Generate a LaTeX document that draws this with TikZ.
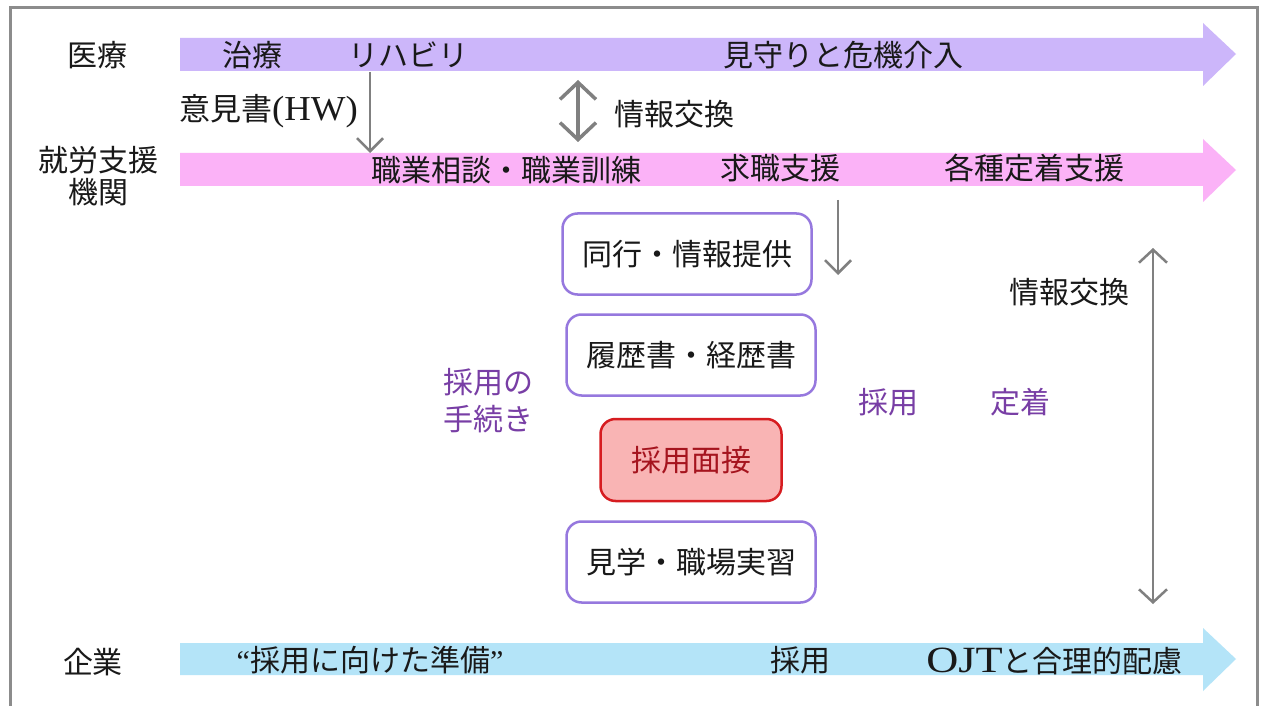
\documentclass[tikz,border=0pt]{standalone}
\usepackage{fontspec}
\setmainfont{Noto Sans CJK JP}
\newfontfamily\serifL{Liberation Serif}
\usetikzlibrary{arrows.meta}
\definecolor{medc}{RGB}{204,182,250}
\definecolor{jobc}{RGB}{251,178,247}
\definecolor{comc}{RGB}{180,228,248}
\definecolor{boxc}{RGB}{150,120,222}
\definecolor{redfill}{RGB}{249,180,180}
\definecolor{redline}{RGB}{214,28,32}
\definecolor{redtext}{RGB}{165,20,30}
\definecolor{purtext}{RGB}{120,62,165}
\definecolor{agray}{RGB}{128,128,128}
\definecolor{fgray}{RGB}{140,140,140}
\definecolor{txt}{RGB}{25,25,25}
\tikzset{
  lbl/.style={font=\fontsize{30}{34}\selectfont, inner sep=0pt, text=txt},
  ptxt/.style={lbl, text=purtext},
  pbox/.style={lbl, draw=boxc, line width=2.5pt, fill=white, rounded corners=15pt,
    minimum width=249pt, minimum height=81pt},
  rbox/.style={lbl, draw=redline, line width=2.5pt, fill=redfill, rounded corners=15pt,
    minimum width=181pt, minimum height=82pt, text=redtext},
  garrow/.style={draw=agray, line width=2.5pt, -{Straight Barb[length=13pt,width=26pt]}},
  gdouble/.style={draw=agray, line width=2.5pt, {Straight Barb[length=13pt,width=28pt]}-{Straight Barb[length=13pt,width=28pt]}},
  gbig/.style={draw=agray, line width=3.5pt, {Straight Barb[length=17pt,width=36pt]}-{Straight Barb[length=17pt,width=36pt]}}
}
\begin{document}
\begin{tikzpicture}[x=1pt,y=-1pt]
\useasboundingbox (0,0) rectangle (1262,706);
\fill[white] (0,0) rectangle (1262,706);
% frame
\draw[fgray, line width=3pt] (10,706) -- (10,8) -- (1257,8) -- (1257,706);

% bars
\fill[medc] (180,38) -- (1203,38) -- (1203,23) -- (1236,54) -- (1203,86) -- (1203,71) -- (180,71) -- cycle;
\fill[jobc] (180,153) -- (1203,153) -- (1203,139) -- (1236,170) -- (1203,202) -- (1203,186) -- (180,186) -- cycle;
\fill[comc] (180,643) -- (1203,643) -- (1203,628) -- (1236,659) -- (1203,691) -- (1203,675) -- (180,675) -- cycle;

% row labels
\node[lbl] (med) at (97,55) {医療};
\node[lbl, align=center, font=\fontsize{30}{32}\selectfont] (job) at (98,176) {就労支援\\機関};
\node[lbl] (com) at (93,662) {企業};

% medical bar texts
\node[lbl] (chiryo) at (252,55) {治療};
\node[lbl] (reha) at (408,55) {リハビリ};
\node[lbl] (mimamori) at (843,55) {見守りと危機介入};

% job bar texts
\node[lbl] (soudan) at (506,170) {職業相談・職業訓練};
\node[lbl] (kyushoku) at (780,168) {求職支援};
\node[lbl] (teichaku) at (1034,168) {各種定着支援};

% company bar texts
\node[lbl] (junbi) at (370,660) {{\serifL “}採用に向けた準備{\serifL ”}};
\node[lbl] (saiyo2) at (800,660) {採用};
\node[lbl, anchor=base east] (ojt) at (1183,672) {{\serifL\fontsize{37}{37}\selectfont\scalebox{1.2}[1]{OJT}}と合理的配慮};

% side labels
\node[lbl, anchor=base east] (iken) at (358,121) {{\fontsize{31}{34}\selectfont 意見書}{\serifL\fontsize{35}{35}\selectfont\scalebox{1.05}[1]{(HW)}}};
\node[lbl] (joho1) at (674,114) {情報交換};
\node[lbl] (joho2) at (1069,292) {情報交換};

% boxes
\node[pbox] (b1) at (687,254) {同行・情報提供};
\node[pbox] (b2) at (691,355) {履歴書・経歴書};
\node[rbox] (b3) at (691,460) {採用面接};
\node[pbox] (b4) at (691,562) {見学・職場実習};

% purple labels
\node[ptxt, align=center, font=\fontsize{30}{37}\selectfont] (tetsuzuki) at (488,401) {採用の\\手続き};
\node[ptxt] (saiyo) at (888,402) {採用};
\node[ptxt] (teichaku2) at (1020,402) {定着};

% connectors
\coordinate (a1s) at (370,72);
\coordinate (a1e) at (370,153);
\draw[garrow] (a1s) -- (a1e);
\coordinate (a2s) at (578,80);
\coordinate (a2e) at (578,142);
\draw[gbig] (a2s) -- (a2e);
\coordinate (a3s) at (838,200);
\coordinate (a3e) at (838,275);
\draw[garrow] (a3s) -- (a3e);
\coordinate (a4s) at (1153,248);
\coordinate (a4e) at (1153,604);
\draw[gdouble] (a4s) -- (a4e);
\end{tikzpicture}
\end{document}
